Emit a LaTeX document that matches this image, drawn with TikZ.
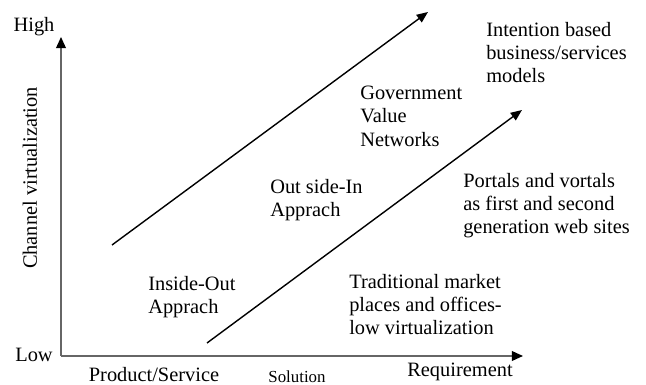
\documentclass[tikz,border=0pt]{standalone}
\usepackage{fontspec}
\setmainfont{Liberation Serif}
\usetikzlibrary{arrows.meta}

\tikzset{
  lbl/.style={inner sep=0pt, font=\fontsize{14.5}{16.5}\selectfont},
  blk/.style={lbl, anchor=north west, align=left},
  axis/.style={gray!80!black, line width=1.1pt, -{Triangle[length=8pt,width=7pt,black]}},
  trend/.style={black, line width=1pt, -{Triangle[length=8pt,width=6.5pt]}}
}

\begin{document}
\begin{tikzpicture}[x=0.025cm, y=-0.025cm] % channel virtualization vs. requirement
  \useasboundingbox (0,0) rectangle (646,385);

  % axes
  \coordinate (o) at (61,356);
  \coordinate (ytop) at (61,37);
  \coordinate (xend) at (523,356);
  \draw[axis] (o) -- (ytop);
  \draw[axis] (o) -- (xend);

  \node[lbl] (high) at (34,27) {High};
  \node[lbl] (low) at (34,355) {Low};
  \node[lbl, rotate=90] (yname) at (30,178) {Channel virtualization};
  \node[lbl] (prod) at (154,375) {Product/Service};
  \node[lbl, font=\fontsize{12}{14}\selectfont] (sol) at (297,377) {Solution};
  \node[lbl] (req) at (460,372) {Requirement};

  % the two trend arrows
  \coordinate (a1) at (112,245);
  \coordinate (a2) at (428,12);
  \coordinate (b1) at (207,343);
  \coordinate (b2) at (522,110);
  \draw[trend] (a1) -- (a2);
  \draw[trend] (b1) -- (b2);

  \node[blk] (inout) at (148,276) {Inside-Out\\Apprach};
  \node[blk] (outin) at (270,179) {Out side-In\\Apprach};
  \node[blk] (gov) at (360,86) {Government\\Value\\Networks};
  \node[blk] (intent) at (486,22) {Intention based\\business/services\\models};
  \node[blk] (portal) at (463,173) {Portals and vortals\\as first and second\\generation web sites};
  \node[blk] (trad) at (349,274) {Traditional market\\places and offices-\\low virtualization};
\end{tikzpicture}
\end{document}
